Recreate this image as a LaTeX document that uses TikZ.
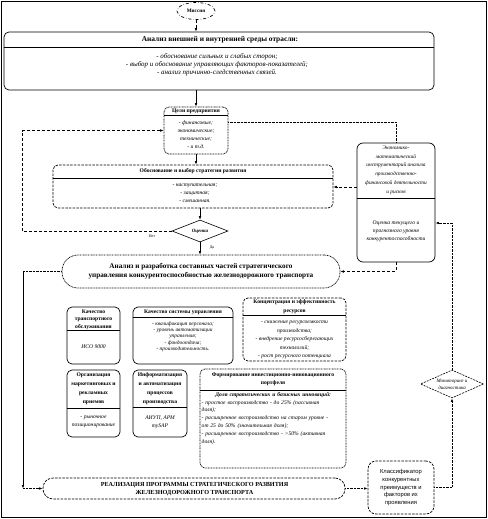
\documentclass[tikz,border=0pt]{standalone}
\usepackage{fontspec}
\setmainfont{Liberation Serif}
\newfontfamily\arialf{Liberation Sans}
\usetikzlibrary{shapes.geometric,arrows.meta}
\tikzset{
  box/.style={draw, line width=0.7pt, rounded corners=5pt, inner sep=0pt},
  dashbox/.style={box, dash pattern=on 2.5pt off 1.2pt},
  dotbox/.style={box, dash pattern=on 0.9pt off 0.7pt},
  divl/.style={line width=0.7pt},
  ttl/.style={inner sep=0pt, align=center, font=\fontsize{5.6}{7.6}\selectfont\bfseries},
  itm/.style={inner sep=0pt, align=center, font=\fontsize{5.6}{8}\selectfont\itshape},
  tip/.style={-{Latex[length=3.5pt,width=2.6pt]}},
  lnk/.style={line width=0.6pt},
  dotlnk/.style={line width=0.8pt, dash pattern=on 0.8pt off 0.6pt},
  dashlnk/.style={line width=0.6pt, dash pattern=on 3pt off 2pt},
  tiny/.style={inner sep=0pt, font=\fontsize{4}{4}\selectfont}
}
\begin{document}
\begin{tikzpicture}[x=1pt,y=-1pt]
\useasboundingbox (0,0) rectangle (487,519);
\draw[line width=0.8pt] (1,1) rectangle (486,517);

% Mission
\node[ellipse, draw, dash dot, line width=0.7pt, minimum width=38pt, minimum height=17pt, inner sep=0pt,
  font=\fontsize{5.2}{6}\selectfont\bfseries] (mission) at (196,11) {Миссия};

% Analysis 1
\node[box, minimum width=430pt, minimum height=58pt] (an1) at (219,61) {};
\draw[divl] (an1.west |- 0,47) -- (an1.east |- 0,47);
\node[inner sep=0pt, font=\fontsize{7.4}{9}\selectfont\bfseries] (an1t) at (220,39.5) {Анализ внешней и внутренней среды отрасли:};
\node[itm, font=\fontsize{7}{8}\selectfont\itshape] (an1i) at (217,65) {- обоснование сильных и слабых сторон;\\- выбор и обоснование управляющих факторов-показателей;\\- анализ причинно-следственных связей.};

% Goals
\node[dotbox, minimum width=64pt, minimum height=47pt] (goals) at (196,130.5) {};
\draw[divl] (goals.west |- 0,115.5) -- (goals.east |- 0,115.5);
\node[ttl] (goalst) at (196,111) {Цели предприятия};
\node[itm] (goalsi) at (196,135) {- финансовые;\\экономические;\\технические;\\- и т.д.};

% Strategy
\node[dashbox, minimum width=280pt, minimum height=43pt] (strat) at (193,186.5) {};
\draw[divl] (strat.west |- 0,178) -- (strat.east |- 0,178);
\node[ttl] (stratt) at (193,171.5) {Обоснование и выбор стратегии развития};
\node[itm] (strati) at (195,193) {- наступательная;\\- защитная;\\- смешанная.};

% Diamond evaluation
\node[diamond, draw, line width=0.6pt, minimum width=56pt, minimum height=22pt, inner sep=0pt, aspect=2.5,
  font=\fontsize{5}{6}\selectfont\bfseries\itshape] (eval) at (200,231) {Оценка};
\node[tiny] (net) at (152,236) {Нет};
\node[tiny] (da) at (212,248) {Да};

% Econ box
\node[box, rounded corners=6pt, minimum width=78pt, minimum height=119pt] (econ) at (396,202.5) {};
\draw[divl] (econ.west |- 0,198) -- (econ.east |- 0,198);
\node[itm, font=\fontsize{5.4}{8.8}\selectfont\itshape] (econt) at (396,170) {Экономико-\\математический\\инструментарий анализа\\производственно-\\финансовой деятельности\\и рисков};
\node[itm] (econb) at (396,231) {Оценка текущего и\\прогнозного уровня\\конкурентоспособности};

% Analysis 2
\node[dotbox, rounded corners=16pt, minimum width=278pt, minimum height=33pt] (an2) at (201,271.5) {};
\node[inner sep=0pt, align=center, font=\fontsize{7.2}{9.5}\selectfont\bfseries] (an2t) at (201,271) {Анализ и разработка составных частей стратегического\\управления конкурентоспособностью железнодорожного транспорта};

% Row 1
\node[box, minimum width=53pt, minimum height=57pt] (qa) at (93.5,335.5) {};
\draw[divl] (qa.west |- 0,330.5) -- (qa.east |- 0,330.5);
\node[ttl] (qat) at (93.5,319.5) {Качество\\транспортного\\обслуживания};
\node[itm] (qai) at (93.5,347) {ИСО 9000};

\node[box, minimum width=100pt, minimum height=57pt] (qb) at (183,335.5) {};
\draw[divl] (qb.west |- 0,317) -- (qb.east |- 0,317);
\node[ttl] (qbt) at (183,312) {Качество системы управления};
\node[itm, font=\fontsize{5.4}{6.2}\selectfont\itshape] (qbi) at (183,336.5) {- квалификация персонала;\\- уровень автоматизации\\управления;\\- фондоотдача;\\- производительность.};

\node[dashbox, minimum width=103pt, minimum height=63pt] (qc) at (294.5,329.5) {};
\draw[divl] (qc.west |- 0,315.5) -- (qc.east |- 0,315.5);
\node[ttl, font=\fontsize{5.6}{8.5}\selectfont\bfseries] (qct) at (294.5,306.75) {Концентрация и эффективность\\ресурсов};
\node[itm, font=\fontsize{5.6}{8.4}\selectfont\itshape] (qci) at (294.5,340) {- снижение ресурсоемкости\\производства;\\- внедрение ресурсосберегающих\\технологий;\\- рост ресурсного потенциала};

% Row 2
\node[box, minimum width=53pt, minimum height=67pt] (qd) at (93.5,403.5) {};
\draw[divl] (qd.west |- 0,408) -- (qd.east |- 0,408);
\node[ttl, font=\fontsize{5.6}{9}\selectfont\bfseries] (qdt) at (93.5,388.5) {Организация\\маркетинговых и\\рекламных\\приемов};
\node[itm] (qdi) at (93.5,422) {- рыночное\\позиционирование};

\node[box, minimum width=54pt, minimum height=67pt] (qe) at (160,403.5) {};
\draw[divl] (qe.west |- 0,407.5) -- (qe.east |- 0,407.5);
\node[ttl, font=\fontsize{5.6}{9}\selectfont\bfseries] (qet) at (160,388.5) {Информатизация\\и автоматизация\\процессов\\производства};
\node[itm] (qei) at (160,422) {АИУП, АРМ\\mySAP};

\node[dotbox, minimum width=146pt, minimum height=99pt] (qf) at (273,418.5) {};
\draw[divl] (qf.west |- 0,390) -- (qf.east |- 0,390);
\node[ttl, font=\fontsize{5.6}{8.5}\selectfont\bfseries] (qft) at (273,379.5) {Формирование инвестиционно-инновационного\\портфеля};
\node[inner sep=0pt, anchor=north west, text width=143pt, align=left, font=\fontsize{5.6}{7.8}\selectfont\itshape] (qfi) at (201.5,392) {\makebox[\linewidth][c]{\bfseries Доля стратегических и базисных инноваций:}\\- простое воспроизводство - до 25\% (пассивная\\доля);\\- расширенное воспроизводство на старом уровне -\\от 25 до 50\% (значительная доля);\\- расширенное воспроизводство - >50\% (активная\\доля).};

% Realization
\node[dashbox, rounded corners=10pt, minimum width=302pt, minimum height=21pt] (real) at (194,488.5) {};
\node[inner sep=0pt, align=center, font=\fontsize{6.2}{8}\selectfont\bfseries] (realt) at (194.5,489) {РЕАЛИЗАЦИЯ ПРОГРАММЫ СТРАТЕГИЧЕСКОГО РАЗВИТИЯ\\ЖЕЛЕЗНОДОРОЖНОГО ТРАНСПОРТА};

% Classifier
\node[dashbox, rounded corners=8pt, minimum width=66pt, minimum height=53pt] (clas) at (401,487.5) {};
\node[inner sep=0pt, align=center, font=\arialf\fontsize{5.8}{7.8}\selectfont] (clast) at (401,487.5) {Классификатор\\конкурентных\\преимуществ и\\факторов их\\проявления};

% Monitoring diamond
\node[diamond, draw, line width=0.6pt, dash pattern=on 2pt off 1pt, minimum width=63pt, minimum height=28pt, inner sep=0pt, aspect=2.25,
  align=center, font=\fontsize{5}{7}\selectfont\itshape] (mon) at (452,384) {Мониторинг и\\диагностика};

% Connectors
\draw[dashlnk, tip] (mission.south) -- (an1.north -| mission.south);
\draw[lnk, tip] (goals.north |- an1.south) -- (goals.north);
\draw[lnk, tip] (goals.south) -- (goals.south |- strat.north);
\draw[lnk, tip] (eval.north |- strat.south) -- (eval.north);
\draw[lnk, tip] (eval.south) -- (eval.south |- an2.north);
\coordinate (fbl) at (22,231);
\draw[dashlnk, tip] (eval.west) -- (fbl) |- (goals.west);
\draw[dotlnk] (econ.north) |- (goals.east |- 0,122);
\draw[dashlnk, tip] (econ.west |- 0,187) -- (strat.east |- 0,187);
\draw[dashlnk, tip] (econ.south) |- (an2.east);
\draw[dotlnk, tip] (mon.north) |- (econ.east |- 0,223);
\draw[dotlnk, tip] (clas.east) -| (mon.south);
\draw[dotlnk, tip] (real.east) -- (clas.west |- real.east);
\coordinate (lft) at (23,271.5);
\draw[dotlnk] (an2.west) -- (lft);
\draw[lnk, tip] (lft) -- (lft |- real.west);
\draw[dotlnk, tip] (lft |- real.west) -- (real.west);
\end{tikzpicture}
\end{document}
